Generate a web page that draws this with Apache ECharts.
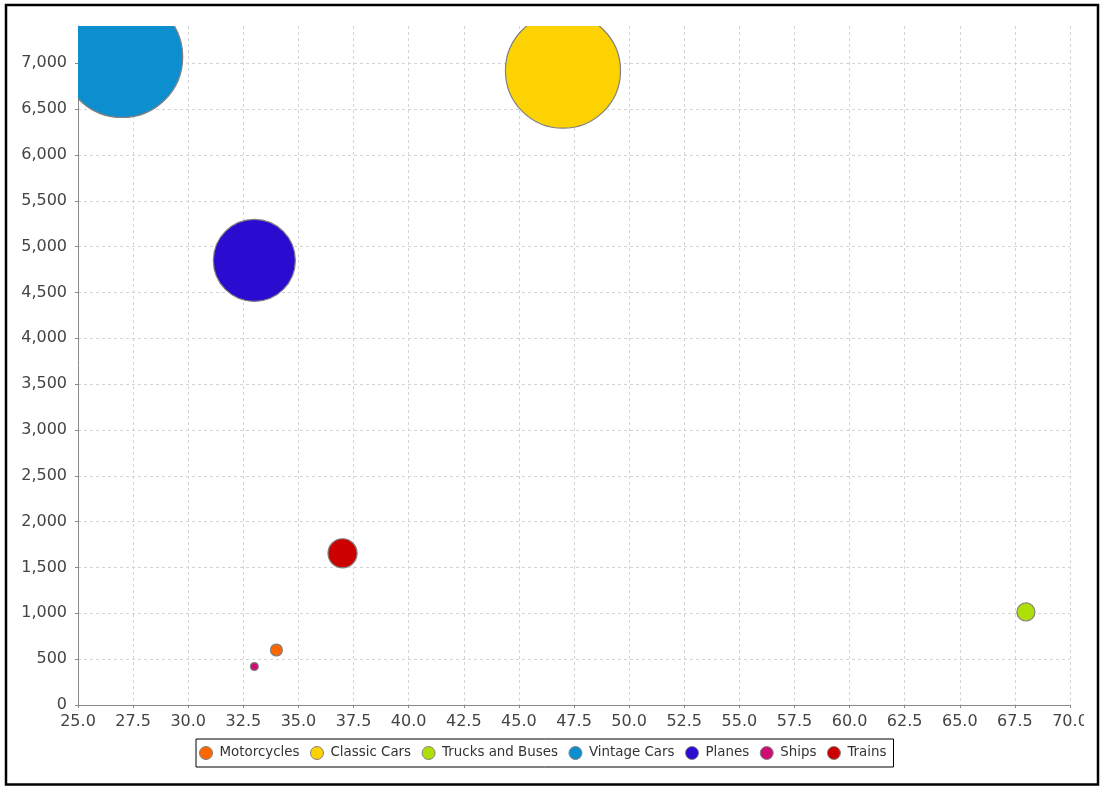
<!DOCTYPE html>
<html>
<head>
<meta charset="utf-8">
<script src="https://cdn.jsdelivr.net/npm/echarts@6/dist/echarts.min.js"></script>
<style>
html,body{margin:0;padding:0;background:#fff;}
#chart{width:1100px;height:786px;}
</style>
</head>
<body>
<div id="chart"></div>
<script>
// Data
var seriesNames = ['Motorcycles', 'Classic Cars', 'Trucks and Buses', 'Vintage Cars', 'Planes', 'Ships', 'Trains'];
var xValues = [34, 47, 68, 27, 33, 33, 37];
var yValues = [600, 6920, 1015, 7070, 4850, 420, 1655];
// bubble diameter, in x-axis (domain) units
var zValues = [0.54, 5.22, 0.82, 5.5, 3.72, 0.36, 1.32];
var colors = ['#FF6600', '#FCD202', '#B0DE09', '#0D8ECF', '#2A0CD0', '#CD0D74', '#CC0000'];
var xTicks = {min: 25, max: 70, interval: 2.5};
var yTicks = {min: 0, max: 7407, interval: 500};

var chart = echarts.init(document.getElementById('chart'), null, {renderer: 'canvas'});

function renderBubble(params, api) {
  var c = api.coord([api.value(0), api.value(1)]);
  var d = api.size([api.value(2), 0])[0];
  return {
    type: 'circle',
    shape: {cx: c[0], cy: c[1], r: d / 2},
    style: {fill: api.visual('color'), stroke: '#808080', lineWidth: 1.2}
  };
}

var series = seriesNames.map(function (name, i) {
  return {
    name: name,
    type: 'custom',
    clip: true,
    renderItem: renderBubble,
    data: [[xValues[i], yValues[i], zValues[i]]],
    encode: {x: 0, y: 1},
    itemStyle: {color: colors[i]},
    emphasis: {disabled: true}
  };
});

var option = {
  animation: false,
  color: colors,
  grid: {left: 78, right: 30, top: 26, bottom: 81, containLabel: false},
  xAxis: {
    type: 'value', min: xTicks.min, max: xTicks.max, interval: xTicks.interval,
    axisLine: {show: true, onZero: false, lineStyle: {color: '#888', width: 1}},
    axisTick: {show: true, length: 3, lineStyle: {color: '#888'}},
    axisLabel: {color: '#444', fontFamily: 'DejaVu Sans', fontSize: 16, margin: 9,
      formatter: function (v) { return v.toFixed(1); }},
    splitLine: {show: true, lineStyle: {color: '#d4d4d4', type: [3, 3], width: 1}}
  },
  yAxis: {
    type: 'value', min: yTicks.min, max: yTicks.max, interval: yTicks.interval,
    axisLine: {show: true, lineStyle: {color: '#888', width: 1}},
    axisTick: {show: true, length: 3, lineStyle: {color: '#888'}},
    axisLabel: {color: '#444', fontFamily: 'DejaVu Sans', fontSize: 16, margin: 11, showMaxLabel: false,
      formatter: function (v) { return v.toLocaleString('en-US'); }},
    splitLine: {show: true, showMaxLine: false, lineStyle: {color: '#d4d4d4', type: [3, 3], width: 1}}
  },
  legend: {
    data: seriesNames.map(function (n) { return {name: n, icon: 'circle'}; }),
    left: 196, top: 739,
    orient: 'horizontal',
    itemWidth: 17, itemHeight: 13, itemGap: 10.5,
    padding: [7, 7, 7, 3],
    borderColor: '#000', borderWidth: 1,
    textStyle: {fontFamily: 'DejaVu Sans', fontSize: 13.4, color: '#333'},
    itemStyle: {borderColor: '#808080', borderWidth: 1},
    selectedMode: false
  },
  graphic: [
    {type: 'rect', z: 100, silent: true, shape: {x: 1084, y: 706, width: 12, height: 30}, style: {fill: '#fff'}},
    {type: 'rect', z: 101, silent: true, shape: {x: 6, y: 5, width: 1092, height: 779.5},
      style: {fill: 'none', stroke: '#000', lineWidth: 2.5}}
  ],
  series: series
};

chart.setOption(option);
</script>
</body>
</html>
